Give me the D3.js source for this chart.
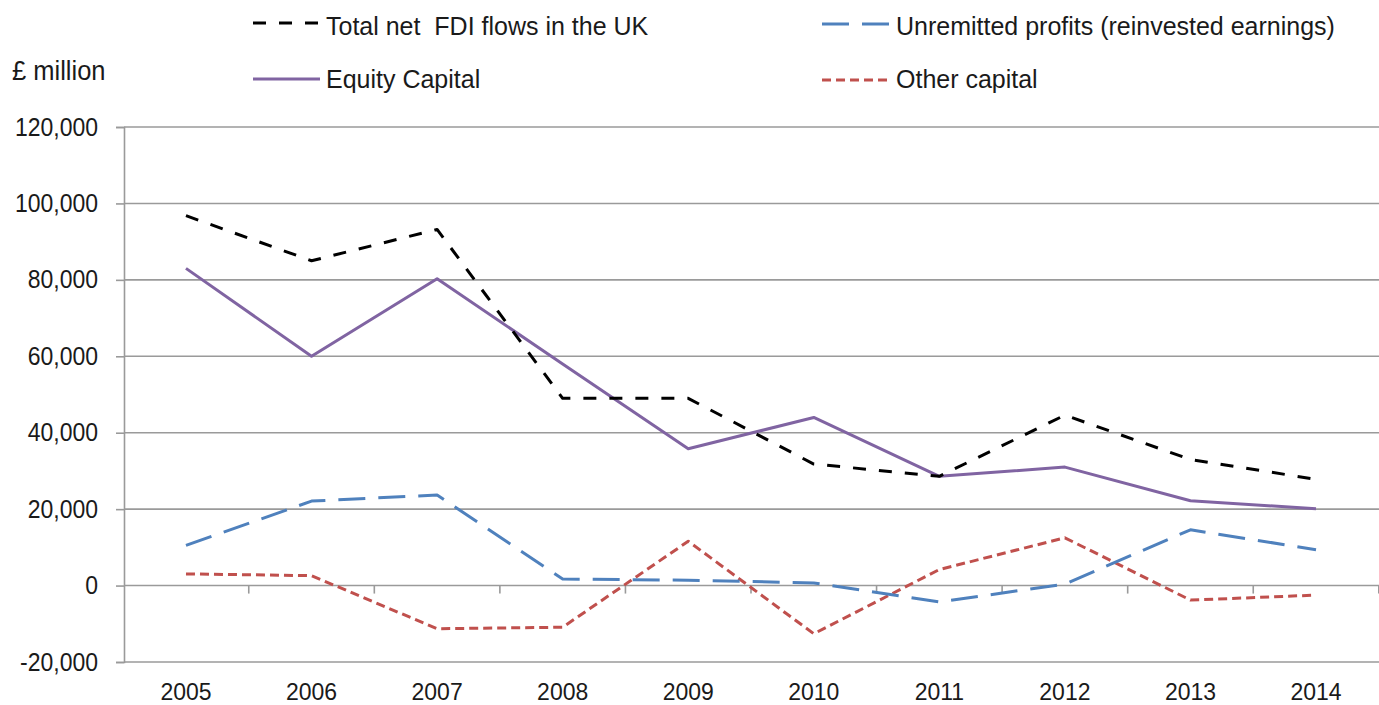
<!DOCTYPE html>
<html>
<head>
<meta charset="utf-8">
<script src="https://cdn.jsdelivr.net/npm/d3@7"></script>
<style>
  html, body { margin: 0; padding: 0; background: #fff; }
  svg { display: block; }
  text { font-family: "Liberation Sans", Arial, sans-serif; fill: #1a1a1a; white-space: pre; }
</style>
</head>
<body>
<svg id="chart" width="1379" height="705"></svg>
<script>
// ---- Data ----
const years = ["2005","2006","2007","2008","2009","2010","2011","2012","2013","2014"];
const totalNetFDI   = [96800, 85000, 93200, 49000, 49000, 31800, 28600, 44600, 33000, 27800];
const equityCapital = [83000, 60000, 80300, 58000, 35800, 44000, 28600, 31000, 22200, 20100];
const unremitted    = [10500, 22100, 23700, 1700, 1400, 700, -4300, 400, 14600, 9400];
const otherCapital  = [3050, 2600, -11300, -10900, 11600, -12600, 4200, 12500, -3800, -2500];
const yTicks = [-20000, 0, 20000, 40000, 60000, 80000, 100000, 120000];
const seriesNames = ["Total net  FDI flows in the UK", "Equity Capital", "Unremitted profits (reinvested earnings)", "Other capital"];
const unitLabel = "£ million";

// ---- Setup ----
const svg = d3.select("#chart");
const plotLeft = 123.2, plotRight = 1378.8, plotTop = 127, plotBottom = 662;
const x = d3.scaleBand().domain(years).range([plotLeft, plotRight]);
const cx = d => x(d) + x.bandwidth() / 2;
const y = d3.scaleLinear().domain([-20000, 120000]).range([plotBottom, plotTop]);
const loc = d3.formatLocale({decimal: ".", thousands: ",", grouping: [3], currency: ["£", ""], minus: "-"});
const fmt = loc.format(",");

const gridColor = "#9a9a9a";

// gridlines
svg.append("g").selectAll("line").data(yTicks).join("line")
  .attr("x1", 124).attr("x2", 1379)
  .attr("y1", d => y(d)).attr("y2", d => y(d))
  .attr("stroke", gridColor).attr("stroke-width", 1.6);

// y axis
const yAxis = svg.append("g").attr("transform", "translate(124,0)")
  .call(d3.axisLeft(y).tickValues(yTicks).tickSize(8).tickFormat(fmt));
yAxis.select(".domain").attr("stroke", gridColor).attr("stroke-width", 1.6);
yAxis.selectAll(".tick line").attr("stroke", gridColor).attr("stroke-width", 1.6);
yAxis.selectAll(".tick text")
  .attr("x", -26).attr("dy", null)
  .attr("font-size", 23).attr("fill", "#1a1a1a")
  .style("font-family", '"Liberation Sans", Arial, sans-serif')
  .attr("transform", "translate(0,8) scale(1,1.1)");

// x axis ticks at category boundaries on the zero line
const boundaries = years.map(d => x(d)).concat([x(years[years.length - 1]) + x.bandwidth()]);
svg.append("g").selectAll("line").data(boundaries.slice(1)).join("line")
  .attr("x1", d => d).attr("x2", d => d)
  .attr("y1", y(0)).attr("y2", y(0) + 8)
  .attr("stroke", gridColor).attr("stroke-width", 1.6);

// x labels
svg.append("g").selectAll("text").data(years).join("text")
  .attr("transform", d => `translate(${cx(d)},700) scale(1,1.08)`)
  .attr("text-anchor", "middle")
  .attr("font-size", 23)
  .text(d => d);

// ---- Series ----
const series = [
  {name: seriesNames[0], values: totalNetFDI,   color: "#000000", dash: "13,13", width: 3},
  {name: seriesNames[1], values: equityCapital, color: "#8064A2", dash: null,    width: 3},
  {name: seriesNames[2], values: unremitted,    color: "#4F81BD", dash: "27,13", width: 3},
  {name: seriesNames[3], values: otherCapital,  color: "#C0504D", dash: "9,5",   width: 3}
];

const line = d3.line().x((d, i) => cx(years[i])).y(d => y(d));

// draw order: other, unremitted, equity, total
[series[3], series[2], series[1], series[0]].forEach(s => {
  svg.append("path")
    .datum(s.values)
    .attr("d", line)
    .attr("fill", "none")
    .attr("stroke", s.color)
    .attr("stroke-width", s.width)
    .attr("stroke-dasharray", s.dash)
    .attr("stroke-linejoin", "round");
});

// ---- Legend ----
const legendPos = [
  {sx: 253, sy: 23, tx: 326, ty: 35},
  {sx: 253, sy: 79, tx: 326, ty: 88},
  {sx: 822, sy: 24, tx: 896, ty: 35},
  {sx: 822, sy: 80, tx: 896, ty: 88}
];
series.forEach((s, i) => {
  const p = legendPos[i];
  svg.append("line")
    .attr("x1", p.sx).attr("x2", p.sx + 67)
    .attr("y1", p.sy).attr("y2", p.sy)
    .attr("stroke", s.color).attr("stroke-width", s.width)
    .attr("stroke-dasharray", s.dash);
  svg.append("text")
    .attr("transform", `translate(${p.tx},${p.ty}) scale(1,1.06)`)
    .attr("font-size", 25)
    .text(s.name);
});

svg.append("text")
  .attr("transform", "translate(12,80) scale(1,1.06)")
  .attr("font-size", 25.5)
  .text(unitLabel);
</script>
</body>
</html>
